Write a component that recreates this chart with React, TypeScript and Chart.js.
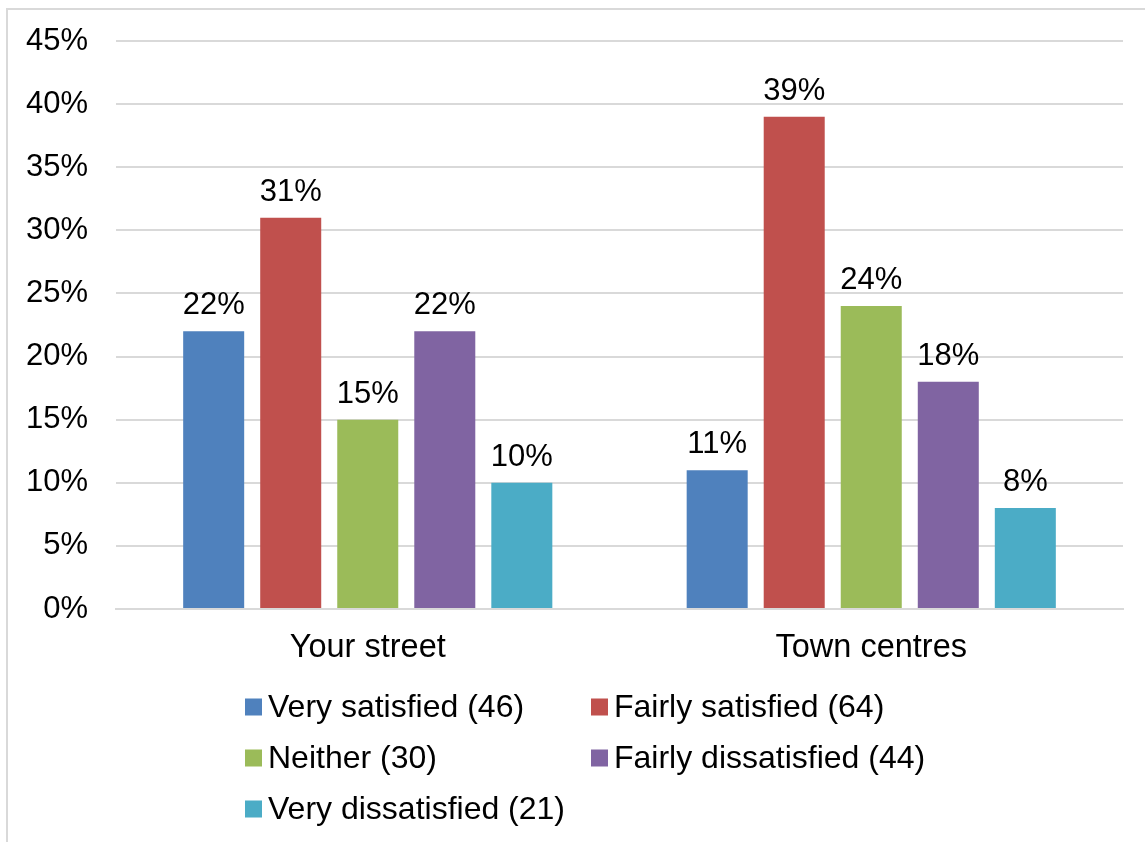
import React, { useEffect, useRef } from "react";
import { Chart, registerables } from "chart.js";

Chart.register(...registerables);

// Survey satisfaction, percentage of respondents per area
const categories = ["Your street", "Town centres"];
const seriesLabels = [
  "Very satisfied (46)",
  "Fairly satisfied (64)",
  "Neither (30)",
  "Fairly dissatisfied (44)",
  "Very dissatisfied (21)",
];
const verySatisfied = [22, 11];
const fairlySatisfied = [31, 39];
const neither = [15, 24];
const fairlyDissatisfied = [22, 18];
const veryDissatisfied = [10, 8];
const seriesColors = ["#4F81BD", "#C0504D", "#9BBB59", "#8064A2", "#4BACC6"];
const yMax = 45;
const yStep = 5;

const FONT = "'Liberation Sans', Arial, sans-serif";
const VALUE_FONT_SIZE = 31;
const AXIS_LABEL_FONT_SIZE = 32.5;
const LEGEND_FONT_SIZE = 32;

// Light grey frame around the chart
const framePlugin = {
  id: "frame",
  beforeDraw(chart: any) {
    const ctx = chart.ctx;
    ctx.save();
    ctx.strokeStyle = "#d9d9d9";
    ctx.lineWidth = 2;
    ctx.beginPath();
    ctx.moveTo(7, chart.height);
    ctx.lineTo(7, 9);
    ctx.lineTo(chart.width, 9);
    ctx.stroke();
    ctx.restore();
  },
};

// Percentage labels above each bar
const valueLabelPlugin = {
  id: "valueLabels",
  afterDatasetsDraw(chart: any) {
    const ctx = chart.ctx;
    ctx.save();
    ctx.font = `${VALUE_FONT_SIZE}px ${FONT}`;
    ctx.fillStyle = "#000";
    ctx.textAlign = "center";
    ctx.textBaseline = "alphabetic";
    chart.data.datasets.forEach((ds: any, i: number) => {
      const meta = chart.getDatasetMeta(i);
      meta.data.forEach((el: any, j: number) => {
        ctx.fillText(`${ds.data[j]}%`, el.x, el.y - 17);
      });
    });
    ctx.restore();
  },
};

// Two-column legend under the axis
const legendPlugin = {
  id: "gridLegend",
  afterDraw(chart: any) {
    const ctx = chart.ctx;
    const area = chart.chartArea;
    const colX = [245, 591];
    const rowOffsets = [98, 149, 200];
    const box = 17;
    ctx.save();
    ctx.font = `${LEGEND_FONT_SIZE}px ${FONT}`;
    ctx.textAlign = "left";
    ctx.textBaseline = "middle";
    chart.data.datasets.forEach((ds: any, i: number) => {
      const x = colX[i % 2];
      const y = area.bottom + rowOffsets[Math.floor(i / 2)];
      ctx.fillStyle = ds.backgroundColor;
      ctx.fillRect(x, y - box / 2, box, box);
      ctx.fillStyle = "#000";
      ctx.fillText(ds.label, x + box + 6, y + 1);
    });
    ctx.restore();
  },
};

export default function App() {
  const canvasRef = useRef<HTMLCanvasElement | null>(null);

  useEffect(() => {
    if (!canvasRef.current) return;
    const seriesValues = [verySatisfied, fairlySatisfied, neither, fairlyDissatisfied, veryDissatisfied];
    const chart = new Chart(canvasRef.current, {
      type: "bar",
      data: {
        labels: categories,
        datasets: seriesValues.map((values, i) => ({
          label: seriesLabels[i],
          data: values,
          backgroundColor: seriesColors[i],
          borderWidth: 0,
          categoryPercentage: 0.765,
          barPercentage: 0.792,
        })),
      },
      options: {
        responsive: false,
        animation: false,
        layout: { padding: { left: 0, top: 41, right: 22, bottom: 163 } },
        plugins: {
          legend: { display: false },
          tooltip: { enabled: false },
        },
        scales: {
          x: {
            grid: { display: false, drawTicks: false },
            border: { color: "#d9d9d9", width: 2 },
            ticks: {
              color: "#000",
              font: { family: FONT, size: AXIS_LABEL_FONT_SIZE },
              padding: 20,
              maxRotation: 0,
            },
            afterFit: (s: any) => {
              s.height = 70;
            },
          },
          y: {
            min: 0,
            max: yMax,
            grid: { color: "#d9d9d9", lineWidth: 2, drawTicks: false },
            border: { display: false },
            ticks: {
              stepSize: yStep,
              color: "#000",
              font: { family: FONT, size: VALUE_FONT_SIZE, lineHeight: 0.5 },
              padding: 28,
              callback: (v: any) => `${v}%`,
            },
            afterFit: (s: any) => {
              s.width = 116;
            },
          },
        },
      },
      plugins: [framePlugin, valueLabelPlugin, legendPlugin],
    });
    return () => chart.destroy();
  }, []);

  return (
    <div style={{ position: "fixed", left: 0, top: 0, width: 1145, height: 842, background: "#fff" }}>
      <canvas ref={canvasRef} width={1145} height={842} />
    </div>
  );
}
